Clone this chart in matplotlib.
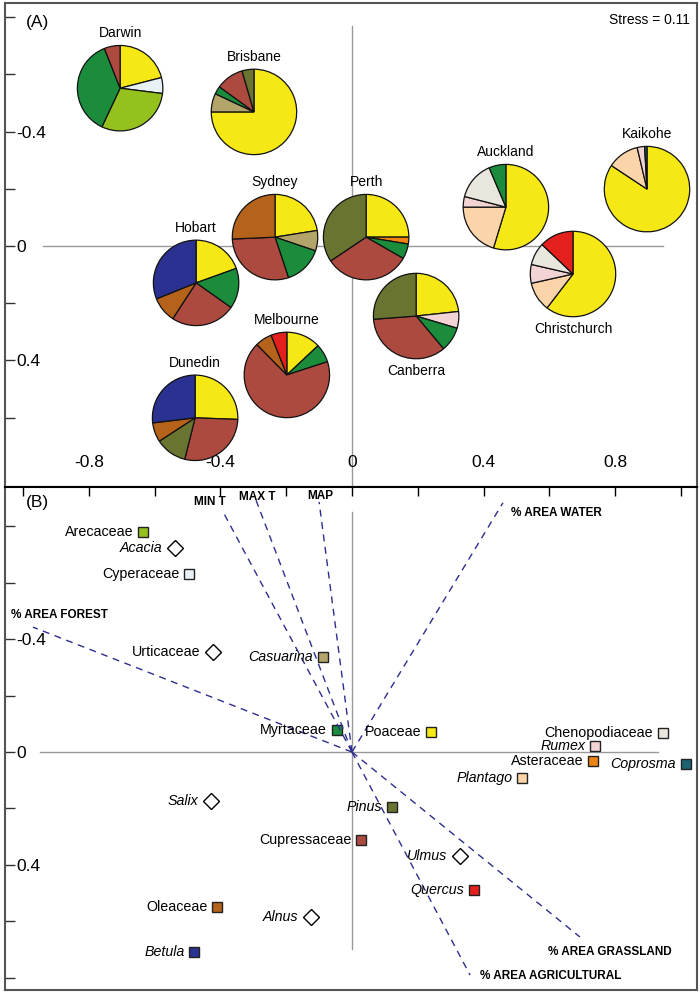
import matplotlib.pyplot as plt

plt.rcParams['font.family'] = ['Liberation Sans', 'DejaVu Sans']

# pollen taxa colours
taxon_colors = {
    'Poaceae': '#f5e814',
    'Cyperaceae': '#e8f1f5',
    'Arecaceae': '#95c11f',
    'Casuarina': '#b3a46a',
    'Myrtaceae': '#1a8c3c',
    'Cupressaceae': '#ad4a40',
    'Pinus': '#6a7431',
    'Oleaceae': '#b5621a',
    'Betula': '#2b3190',
    'Quercus': '#e3201b',
    'Chenopodiaceae': '#e9e7dd',
    'Rumex': '#f2d4d4',
    'Asteraceae': '#ee8414',
    'Plantago': '#fbd4a9',
    'Coprosma': '#1d6273',
}

# (A) NMDS of sites, pie = pollen composition (%)
cities = ['Darwin', 'Brisbane', 'Sydney', 'Perth', 'Hobart', 'Canberra',
          'Melbourne', 'Dunedin', 'Auckland', 'Kaikohe', 'Christchurch']
city_x = [-0.705, -0.298, -0.234, 0.043, -0.474, 0.195, -0.198, -0.477, 0.468, 0.897, 0.672]
city_y = [-0.552, -0.469, -0.031, -0.031, 0.129, 0.245, 0.451, 0.601, -0.136, -0.199, 0.098]
city_taxa = [
    ['Poaceae', 'Cyperaceae', 'Arecaceae', 'Myrtaceae', 'Cupressaceae'],
    ['Poaceae', 'Casuarina', 'Myrtaceae', 'Cupressaceae', 'Pinus'],
    ['Poaceae', 'Casuarina', 'Myrtaceae', 'Cupressaceae', 'Oleaceae'],
    ['Poaceae', 'Asteraceae', 'Myrtaceae', 'Cupressaceae', 'Pinus'],
    ['Poaceae', 'Myrtaceae', 'Cupressaceae', 'Oleaceae', 'Betula'],
    ['Poaceae', 'Rumex', 'Myrtaceae', 'Cupressaceae', 'Pinus'],
    ['Poaceae', 'Myrtaceae', 'Cupressaceae', 'Oleaceae', 'Quercus'],
    ['Poaceae', 'Cupressaceae', 'Pinus', 'Oleaceae', 'Betula'],
    ['Poaceae', 'Plantago', 'Rumex', 'Chenopodiaceae', 'Myrtaceae'],
    ['Poaceae', 'Plantago', 'Rumex', 'Coprosma'],
    ['Poaceae', 'Plantago', 'Rumex', 'Chenopodiaceae', 'Quercus'],
]
city_pct = [
    [21, 6, 30, 37, 6],
    [75, 7, 3, 10.5, 4.5],
    [22.5, 7.7, 14.7, 29.4, 25.7],
    [25, 2.6, 5.7, 32.3, 34.4],
    [19.5, 15.3, 24.4, 9.7, 31.1],
    [23.3, 6.3, 9.3, 34.9, 26.2],
    [13, 7, 67.6, 6.4, 6],
    [25.6, 28.3, 11.9, 7.3, 26.9],
    [54.7, 20.3, 4, 14.6, 6.4],
    [84.3, 12, 2.8, 0.9],
    [60.4, 11.1, 7.1, 8.5, 12.9],
]
labels_below = ['Canberra', 'Christchurch']

# (B) taxa scores and environmental vectors
taxa = ['Arecaceae', 'Acacia', 'Cyperaceae', 'Urticaceae', 'Casuarina', 'Myrtaceae',
        'Poaceae', 'Chenopodiaceae', 'Rumex', 'Asteraceae', 'Coprosma', 'Plantago',
        'Pinus', 'Salix', 'Cupressaceae', 'Ulmus', 'Quercus', 'Oleaceae', 'Alnus', 'Betula']
taxa_x = [-0.635, -0.538, -0.495, -0.422, -0.088, -0.046, 0.240, 0.945, 0.739, 0.733,
          1.015, 0.517, 0.122, -0.428, 0.027, 0.328, 0.371, -0.410, -0.125, -0.480]
taxa_y = [-0.780, -0.723, -0.631, -0.355, -0.337, -0.078, -0.071, -0.067, -0.021, 0.032,
          0.043, 0.092, 0.195, 0.174, 0.312, 0.369, 0.489, 0.550, 0.585, 0.709]
genus_names = ['Acacia', 'Casuarina', 'Rumex', 'Coprosma', 'Plantago', 'Pinus',
               'Salix', 'Ulmus', 'Quercus', 'Alnus', 'Betula']
no_pie_taxa = ['Acacia', 'Urticaceae', 'Salix', 'Ulmus', 'Alnus']

vectors = ['MIN T', 'MAX T', 'MAP', '% AREA FOREST', '% AREA WATER',
           '% AREA GRASSLAND', '% AREA AGRICULTURAL']
vec_x = [-0.395, -0.292, -0.100, -0.970, 0.459, 0.693, 0.359]
vec_y = [-0.858, -0.894, -0.887, -0.443, -0.884, 0.656, 0.791]
# label placement (offset in points, horizontal alignment)
vec_label = [((-9, 6), 'center'), ((1, 2), 'center'), ((1, 4), 'center'),
             ((-16, 9), 'left'), ((6, -7), 'left'), ((-23, -11), 'left'),
             ((7, -1), 'left')]

W, H = 700, 994
fig = plt.figure(figsize=(W / 100, H / 100), dpi=100)
axA = fig.add_axes([5 / W, 1 - 487 / H, 692 / W, 484 / H])
axB = fig.add_axes([5 / W, 1 - 990 / H, 692 / W, 503 / H])

for ax in (axA, axB):
    ax.set_xlim(-1.055, 1.049)
    for s in ax.spines.values():
        s.set_color('#555555')
        s.set_linewidth(1.5)
    ax.tick_params(axis='both', direction='in', colors='#333333', labelsize=12.5,
                   labelcolor='black', width=1)
axA.set_ylim(0.843, -0.85)
axB.set_ylim(0.844, -0.94)

yt = [-0.8, -0.6, -0.4, -0.2, 0, 0.2, 0.4, 0.6]
ylab = ['' if v not in (-0.4, 0, 0.4) else ('0' if v == 0 else f'{v:g}') for v in yt]
axA.set_yticks(yt, ylab)
ytB = yt + [0.8]
axB.set_yticks(ytB, ylab + [''])
for ax in (axA, axB):
    ax.tick_params(axis='y', length=7, pad=-8)
    for lab in ax.get_yticklabels():
        lab.set_horizontalalignment('left')

xt = [-0.8, -0.4, 0, 0.4, 0.8]
axA.set_xticks(xt, ['0' if v == 0 else f'{v:g}' for v in xt])
axA.tick_params(axis='x', length=0, pad=-23)

axB.set_xticks([-1.0, -0.8, -0.6, -0.4, -0.2, 0, 0.2, 0.4, 0.6, 0.8, 1.0])
axB.tick_params(axis='x', top=True, bottom=False, labelbottom=False, length=6.5, colors='black')
axB.spines['top'].set_color('black')

# reference lines
axA.plot([-0.94, 0.945], [0, 0], color='#999999', lw=1, zorder=0)
axA.plot([0, 0], [-0.77, 0.843], color='#999999', lw=1, zorder=0)
axB.plot([-0.95, 0.93], [0, 0], color='#999999', lw=1, zorder=0)
axB.plot([0, 0], [-0.85, 0.70], color='#999999', lw=1, zorder=0)

axA.text(0.03, 0.975, '(A)', transform=axA.transAxes, fontsize=12.5, va='top')
axA.text(0.99, 0.98, 'Stress = 0.11', transform=axA.transAxes, fontsize=10, va='top', ha='right')
axB.text(0.03, 0.985, '(B)', transform=axB.transAxes, fontsize=12.5, va='top')

# pies
R = 44
for name, x, y, tx, p in zip(cities, city_x, city_y, city_taxa, city_pct):
    px, py = axA.transData.transform((x, y))
    pa = fig.add_axes([(px - R) / W, (py - R) / H, 2 * R / W, 2 * R / H])
    pa.pie(p, colors=[taxon_colors[t] for t in tx], startangle=90, counterclock=False,
           wedgeprops=dict(edgecolor='#111111', linewidth=0.9))
    pa.set_xlim(-1.03, 1.03)
    pa.set_ylim(-1.03, 1.03)
    dy = -(R + 11) if name in labels_below else (R + 11)
    axA.annotate(name, (x, y), xytext=(0, dy * 0.72), textcoords='offset points',
                 ha='center', va='center', fontsize=10)

# taxa points
for name, x, y in zip(taxa, taxa_x, taxa_y):
    style = 'italic' if name in genus_names else 'normal'
    if name in no_pie_taxa:
        axB.plot(x, y, marker='D', ms=8, mfc='white', mec='black', mew=1)
        off = -9
    else:
        axB.plot(x, y, marker='s', ms=7.5, mfc=taxon_colors[name], mec='#222222', mew=1)
        off = -7
    axB.annotate(name, (x, y), xytext=(off, 0), textcoords='offset points',
                 ha='right', va='center', fontsize=10.3, style=style)

# environmental vectors
for name, x, y, (off, ha) in zip(vectors, vec_x, vec_y, vec_label):
    axB.plot([0, x], [0, y], color='#2e2e8e', lw=1, linestyle=(0, (5, 4)))
    axB.annotate(name, (x, y), xytext=off, textcoords='offset points',
                 ha=ha, va='center', fontsize=8.5, fontweight='bold')

fig.savefig('out.png', dpi=100)
